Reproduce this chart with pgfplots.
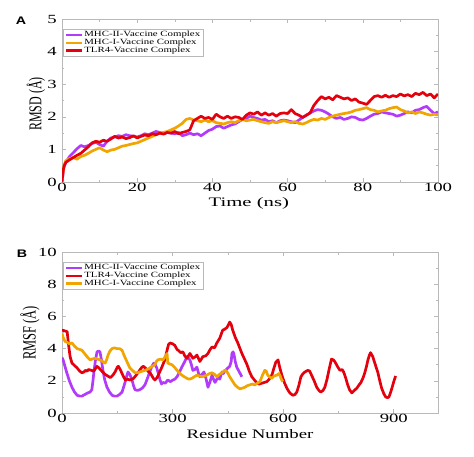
\documentclass[border=0pt]{standalone}
\usepackage{fontspec}
\setmainfont{Liberation Serif}
\newfontfamily\panelfont{Liberation Sans}
\usepackage{graphicx}
\usepackage{pgfplots}
\pgfplotsset{compat=1.18}
\definecolor{cpurple}{RGB}{178,58,250}
\definecolor{corange}{RGB}{240,165,0}
\definecolor{cred}{RGB}{228,0,12}
\definecolor{cframe}{RGB}{185,185,185}
\pgfplotsset{
  mystyle/.style={
    scale only axis, width=376bp,
    axis line style={cframe, line width=0.6bp},
    major tick style={cframe, line width=0.6bp},
    minor tick style={cframe, line width=0.6bp},
    major tick length=4bp, minor tick length=2.5bp,
    minor tick num=1,
    tick align=inside,
    tick label style={font=\fontsize{12.5}{12.5}\selectfont, xscale=1.5, text=black},
    xticklabel style={inner sep=1.5bp},
    /pgf/number format/assume math mode=true,
    legend cell align=left,
    legend image code/.code={\draw[##1, line width=2.4pt] (0bp,0bp) -- (16bp,0bp);},
    legend style={draw=cframe, line width=0.5bp, font=\fontsize{8}{8}\selectfont,
      inner sep=1.2bp, row sep=-1.2bp, nodes={inner sep=1bp, xscale=1.36}},
    every axis plot/.append style={line width=2.7pt, line join=round},
  }
}
\begin{document}
\begin{tikzpicture}
\useasboundingbox (0,0) rectangle (474bp,-457bp);
\node[font=\panelfont\bfseries\fontsize{11}{11}\selectfont, xscale=1.3] at (21bp,-21bp) {A};
\node[font=\panelfont\bfseries\fontsize{11}{11}\selectfont, xscale=1.3] at (22bp,-254bp) {B};
\begin{axis}[mystyle,
  at={(62bp,-182bp)}, anchor=south west, height=163bp,
  xmin=0, xmax=100, ymin=0, ymax=5,
  xtick={0,20,40,60,80,100}, ytick={0,1,2,3,4,5},
  xlabel={\fontsize{13}{13}\selectfont Time (ns)},
  xlabel style={at={(axis description cs:0.497,-0.13)}, anchor=center, xscale=1.6},
  ylabel={\scalebox{1}[1.5]{\fontsize{12}{12}\selectfont RMSD (Å)}},
  ylabel style={at={(axis description cs:-0.069,0.478)}, anchor=center},
  legend style={at={(0.003,0.939)}, anchor=north west},
]
\addplot[cpurple] coordinates {(0,0) (0.5,0.45) (1,0.6) (2,0.78) (3,0.9) (4,1.02) (5,1.12) (6,1.08) (7,1.12) (8,1.18) (9,1.22) (10,1.15) (11,1.1) (12,1.25) (13,1.35) (14,1.38) (15,1.42) (16,1.4) (17,1.45) (18,1.42) (19,1.4) (20,1.38) (21,1.42) (22,1.48) (23,1.45) (24,1.5) (25,1.55) (26,1.52) (27,1.48) (28,1.52) (29,1.5) (30,1.48) (31,1.52) (32,1.42) (33,1.45) (34,1.5) (35,1.45) (36,1.48) (37,1.42) (38,1.5) (39,1.58) (40,1.62) (41,1.7) (42,1.72) (43,1.65) (44,1.7) (45,1.75) (46,1.78) (47,1.85) (48,1.92) (49,1.95) (50,2.02) (51,1.98) (52,1.95) (53,1.9) (54,1.92) (55,1.85) (56,1.88) (57,1.82) (58,1.88) (59,1.9) (60,1.88) (61,1.85) (62,1.82) (63,1.9) (64,1.98) (65,2.05) (66,2.12) (67,2.18) (68,2.22) (69,2.2) (70,2.15) (71,2.08) (72,2.0) (73,1.95) (74,1.98) (75,1.92) (76,1.95) (77,2.0) (78,1.98) (79,1.92) (80,1.9) (81,1.95) (82,2.02) (83,2.08) (84,2.1) (85,2.15) (86,2.12) (87,2.1) (88,2.08) (89,2.02) (90,2.05) (91,2.1) (92,2.15) (93,2.12) (94,2.2) (95,2.22) (96,2.28) (97,2.32) (98,2.2) (99,2.1) (100,2.15)};
\addlegendentry{MHC-II-Vaccine Complex}
\addplot[corange] coordinates {(0,0) (0.5,0.5) (1,0.65) (2,0.72) (3,0.75) (4,0.7) (5,0.78) (6,0.82) (7,0.88) (8,0.95) (9,1.0) (10,1.05) (11,0.98) (12,0.93) (13,0.98) (14,1.0) (15,1.05) (16,1.1) (17,1.12) (18,1.15) (19,1.18) (20,1.2) (21,1.25) (22,1.3) (23,1.35) (24,1.4) (25,1.45) (26,1.5) (27,1.52) (28,1.55) (29,1.6) (30,1.65) (31,1.72) (32,1.8) (33,1.92) (34,1.95) (35,1.9) (36,1.88) (37,1.85) (38,1.9) (39,1.85) (40,1.88) (41,1.82) (42,1.8) (43,1.78) (44,1.82) (45,1.85) (46,1.82) (47,1.88) (48,1.92) (49,1.88) (50,1.9) (51,1.92) (52,1.88) (53,1.85) (54,1.82) (55,1.8) (56,1.85) (57,1.82) (58,1.85) (59,1.88) (60,1.85) (61,1.82) (62,1.85) (63,1.8) (64,1.78) (65,1.82) (66,1.88) (67,1.92) (68,1.9) (69,1.95) (70,1.92) (71,1.98) (72,2.02) (73,2.05) (74,2.08) (75,2.1) (76,2.12) (77,2.15) (78,2.2) (79,2.22) (80,2.25) (81,2.28) (82,2.22) (83,2.2) (84,2.15) (85,2.18) (86,2.2) (87,2.25) (88,2.28) (89,2.3) (90,2.22) (91,2.18) (92,2.12) (93,2.15) (94,2.1) (95,2.15) (96,2.12) (97,2.08) (98,2.05) (99,2.08) (100,2.05)};
\addlegendentry{MHC-I-Vaccine Complex}
\addplot[cred] coordinates {(0,0) (0.3,0.35) (0.6,0.5) (1,0.6) (2,0.68) (3,0.75) (4,0.82) (5,0.88) (6,0.98) (7,1.08) (8,1.2) (9,1.25) (10,1.22) (11,1.28) (12,1.25) (13,1.32) (14,1.4) (15,1.35) (16,1.38) (17,1.33) (18,1.36) (19,1.42) (20,1.35) (21,1.4) (22,1.44) (23,1.42) (24,1.48) (25,1.45) (26,1.5) (27,1.47) (28,1.52) (29,1.5) (30,1.55) (31,1.48) (32,1.52) (33,1.55) (34,1.6) (35,1.88) (36,1.95) (37,2.02) (38,1.95) (39,1.98) (40,1.92) (41,2.08) (42,2.0) (43,1.95) (44,2.02) (45,1.95) (46,2.0) (47,1.98) (48,1.92) (49,2.05) (50,2.12) (51,2.08) (52,2.15) (53,2.05) (54,2.12) (55,2.05) (56,2.1) (57,2.02) (58,2.1) (59,2.12) (60,2.1) (61,2.22) (62,2.1) (63,2.05) (64,1.98) (65,2.05) (66,2.12) (67,2.35) (68,2.5) (69,2.62) (70,2.55) (71,2.6) (72,2.52) (73,2.65) (74,2.6) (75,2.55) (76,2.58) (77,2.5) (78,2.55) (79,2.45) (80,2.42) (81,2.38) (82,2.5) (83,2.62) (84,2.65) (85,2.6) (86,2.66) (87,2.6) (88,2.65) (89,2.62) (90,2.7) (91,2.64) (92,2.68) (93,2.62) (94,2.72) (95,2.68) (96,2.75) (97,2.65) (98,2.7) (99,2.58) (100,2.7)};
\addlegendentry{TLR4-Vaccine Complex}
\end{axis}
\begin{axis}[mystyle,
  at={(62bp,-413bp)}, anchor=south west, height=161bp,
  xmin=0, xmax=1020, ymin=0, ymax=10,
  xtick={0,300,600,900}, ytick={0,2,4,6,8,10},
  xlabel={\fontsize{13}{13}\selectfont Residue Number},
  xlabel style={at={(axis description cs:0.5,-0.128)}, anchor=center, xscale=1.45},
  ylabel={\scalebox{1}[1.5]{\fontsize{12.5}{12.5}\selectfont RMSF (Å)}},
  ylabel style={at={(axis description cs:-0.085,0.497)}, anchor=center},
  legend style={at={(0.003,0.938)}, anchor=north west},
]
\addplot[cpurple] coordinates {(0,3.45) (3,3.3) (8,2.9) (13,2.5) (20,2.0) (27,1.6) (34,1.3) (41,1.1) (48,1.05) (54,1.05) (62,1.15) (70,1.25) (76,1.3) (81,1.45) (84,2.0) (87,2.65) (91,3.3) (95,3.8) (99,3.85) (103,3.8) (107,3.3) (111,2.65) (116,2.05) (122,1.6) (129,1.3) (136,1.1) (142,1.05) (149,1.05) (156,1.15) (163,1.3) (167,1.6) (171,1.9) (175,2.25) (179,2.55) (184,2.4) (190,2.05) (194,1.7) (198,1.45) (205,1.4) (211,1.45) (218,1.55) (225,1.75) (231,2.1) (238,2.55) (244,2.9) (249,3.1) (253,3.0) (257,2.8) (262,2.4) (266,2.05) (270,1.8) (274,1.9) (280,1.85) (287,2.05) (294,1.95) (301,2.05) (306,2.1) (312,2.25) (318,2.5) (325,2.85) (332,3.15) (339,3.5) (343,3.4) (347,3.3) (351,3.0) (355,2.65) (360,2.7) (366,2.85) (370,2.5) (374,2.25) (380,2.4) (385,2.55) (390,2.2) (396,1.6) (401,1.9) (407,2.35) (411,2.1) (415,1.9) (419,2.05) (423,2.25) (428,2.1) (434,2.55) (438,2.45) (442,2.65) (446,2.7) (450,2.8) (455,2.9) (459,3.2) (461,3.7) (464,3.8) (466,3.7) (470,3.2) (474,2.85) (481,2.55) (488,2.25)};
\addlegendentry{MHC-II-Vaccine Complex}
\addplot[cred] coordinates {(0,5.15) (8,5.1) (14,5.05) (18,4.2) (22,3.5) (27,3.1) (34,2.95) (41,2.8) (48,2.6) (54,2.5) (60,2.55) (63,2.65) (68,2.6) (72,2.7) (80,2.65) (86,2.6) (95,2.9) (100,2.8) (104,2.7) (110,2.55) (117,2.4) (124,2.3) (131,2.2) (138,2.35) (144,2.55) (150,2.85) (153,2.9) (158,2.7) (162,2.5) (167,2.25) (172,2.05) (178,2.1) (185,2.05) (190,2.1) (194,2.15) (203,2.4) (212,2.7) (217,2.85) (221,2.9) (226,2.8) (230,2.7) (235,2.55) (239,2.5) (244,2.3) (248,2.15) (252,2.05) (258,2.2) (264,2.5) (270,2.8) (279,3.3) (285,3.9) (289,4.25) (293,4.35) (300,4.3) (306,4.2) (312,3.95) (315,3.9) (322,3.75) (328,3.8) (333,3.55) (339,3.4) (347,3.7) (355,3.4) (362,3.5) (366,3.6) (374,3.2) (382,3.5) (390,3.55) (396,3.7) (402,3.95) (407,4.1) (414,4.05) (420,4.35) (428,4.65) (432,4.9) (436,5.15) (441,5.2) (447,5.3) (451,5.45) (455,5.65) (459,5.5) (463,5.15) (470,4.7) (477,4.35) (482,4.05) (488,3.7) (495,3.35) (502,3.0) (508,2.6) (515,2.25) (522,2.05) (529,1.85) (535,1.8) (542,1.85) (549,1.9) (556,1.95) (560,2.05) (564,2.15) (570,2.4) (575,2.8) (580,3.15) (586,3.3) (591,2.8) (597,2.3) (604,1.85) (611,1.5) (618,1.25) (626,1.1) (632,1.15) (637,1.3) (643,1.75) (648,2.25) (654,2.45) (659,2.55) (667,2.65) (672,2.6) (677,2.35) (684,2.0) (691,1.6) (697,1.4) (702,1.3) (708,1.4) (713,1.6) (719,2.1) (724,2.65) (728,3.05) (731,3.35) (736,3.3) (740,3.2) (747,2.9) (754,2.65) (760,2.7) (764,2.55) (770,2.15) (775,1.75) (780,1.45) (786,1.25) (793,1.4) (800,1.55) (806,1.75) (811,1.9) (817,2.2) (822,2.55) (826,2.9) (830,3.3) (834,3.6) (837,3.75) (843,3.5) (850,3.0) (857,2.5) (862,2.0) (867,1.55) (873,1.2) (878,1.0) (883,0.95) (887,1.0) (891,1.25) (895,1.55) (900,1.95) (905,2.3)};
\addlegendentry{TLR4-Vaccine Complex}
\addplot[corange] coordinates {(0,4.95) (3,4.7) (8,4.45) (13,4.4) (20,4.3) (27,4.35) (34,4.15) (41,4.0) (48,3.95) (54,3.9) (61,3.7) (68,3.5) (72,3.4) (76,3.3) (82,3.35) (89,3.4) (96,3.35) (103,3.3) (110,3.2) (117,3.1) (121,3.3) (125,3.6) (130,3.85) (136,4.0) (142,4.05) (149,4.0) (156,4.0) (163,3.9) (168,3.6) (174,3.3) (179,3.05) (184,2.8) (191,2.65) (198,2.5) (205,2.5) (211,2.55) (218,2.6) (225,2.65) (231,2.7) (238,2.8) (245,2.9) (252,3.0) (256,3.2) (260,3.3) (267,3.35) (274,3.3) (280,3.5) (285,3.7) (287,3.1) (292,3.05) (298,3.0) (305,2.85) (312,2.65) (318,2.5) (325,2.35) (332,2.25) (339,2.15) (345,2.1) (352,2.15) (359,2.25) (366,2.35) (373,2.3) (380,2.25) (386,2.3) (393,2.35) (400,2.45) (407,2.5) (414,2.4) (420,2.25) (427,2.4) (434,2.5) (442,2.65) (447,2.6) (455,2.25) (462,2.0) (469,1.75) (476,1.6) (483,1.5) (490,1.55) (496,1.6) (503,1.7) (510,1.75) (516,1.8) (523,1.75) (530,1.85) (537,1.95) (543,2.3) (550,2.65) (554,2.6) (558,2.35) (563,2.25) (569,2.15) (575,2.3) (583,2.35) (588,2.45) (591,2.35) (595,2.1) (599,1.95)};
\addlegendentry{MHC-I-Vaccine Complex}
\end{axis}
\end{tikzpicture}
\end{document}
